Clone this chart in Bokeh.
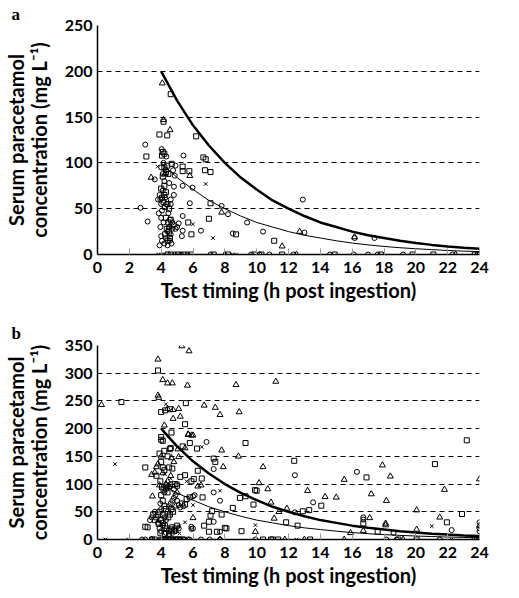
from bokeh.plotting import figure
from bokeh.layouts import column
from bokeh.models import Range1d, LinearAxis, FixedTicker
from bokeh.embed import file_html
from bokeh.resources import INLINE

# Nomogram lines (h, mg/L)
curve_t = [4, 5, 6, 7, 8, 9, 10, 11, 12, 13, 14, 15, 16, 17, 18, 19, 20, 21, 22, 23, 24]
curve_200 = [200, 168, 141, 119, 100, 84, 71, 59, 50, 42, 35, 30, 25, 21, 18, 15, 12.5, 10.5, 8.8, 7.4, 6.3]
curve_100 = [100, 84, 71, 59, 50, 42, 35, 30, 25, 21, 18, 15, 12.5, 10.5, 8.8, 7.4, 6.3, 5.3, 4.4, 3.7, 3.1]

x_ticks = [0, 2, 4, 6, 8, 10, 12, 14, 16, 18, 20, 22, 24]
a_y_ticks = [0, 50, 100, 150, 200, 250]
b_y_ticks = [0, 50, 100, 150, 200, 250, 300, 350]

# ---------------- panel a ----------------
a_circle_x = [4.03, 4.33, 5.4, 4.9, 3.6, 4.85, 4.8, 5.35, 5.97, 4.8, 5.8, 7.8, 8.2, 2.7, 3.15, 5.35, 5.35, 5.3, 6.5, 3.0,
              9.4, 8.5, 10.4, 12.9, 13.0, 16.15, 17.4,
              3.95, 4.0, 4.05, 3.9, 4.1, 4.0, 4.15, 3.95, 4.0, 4.05, 3.9, 4.2, 4.3, 4.4, 4.5, 4.6, 4.65, 4.7, 4.55, 4.45,
              4.35, 4.25, 4.2, 4.1, 4.3, 4.5, 4.6, 4.7, 4.8, 4.9, 5.0, 5.1, 4.4, 4.55, 4.0, 3.85, 3.8, 4.15, 4.6, 4.75]
a_circle_y = [115, 107, 108, 97, 82, 86, 74, 75, 73, 65, 56, 53, 44, 51, 36, 42, 26, 20, 26, 120,
              35, 23, 25, 60, 24, 18, 18,
              60, 55, 48, 65, 70, 40, 35, 30, 20, 15, 10, 12, 18, 25, 30, 22, 12, 28, 38, 45,
              55, 62, 80, 88, 92, 78, 60, 35, 32, 28, 30, 34, 10, 15, 95, 45, 60, 100, 55, 92]
a_circle_zero_x = [4.85, 5.25, 5.65, 7.1, 9.65, 10.17, 10.8, 12.3, 14.6, 16.1, 17.0, 17.6, 19.2, 22.3, 24.0]

a_square_x = [4.6, 4.15, 3.89, 4.38, 6.2, 3.07, 4.05, 4.1, 4.2, 6.65, 6.8, 4.2, 4.38, 4.66, 5.35, 5.35, 5.77, 6.75, 7.1,
              7.1, 5.7, 5.9, 7.0, 8.7, 11.1,
              4.1, 4.2, 4.3, 4.05, 4.15, 4.25, 4.4, 4.5, 4.3, 4.45, 4.6, 4.35, 4.5, 4.25, 4.4, 4.55, 4.3, 4.45, 4.2, 4.0]
a_square_y = [175, 145, 131, 130, 129, 107, 108, 112, 110, 106, 104, 95, 97, 99, 96, 91, 91, 92, 90,
              56, 35, 22, 39, 22, 15,
              85, 75, 68, 62, 57, 52, 55, 50, 40, 35, 38, 28, 25, 22, 15, 18, 90, 88, 65, 72]
a_square_zero_x = [4.4, 4.6, 5.05, 5.45, 5.87, 7.3, 8.2, 9.86, 10.3, 11.6, 14.9, 17.8, 19.8, 21.1, 23.7, 23.9]

a_tri_x = [4.07, 4.56, 4.15, 5.8, 3.37, 7.8, 11.6, 12.7, 16.15, 4.25, 4.5]
a_tri_y = [187, 136, 147, 86, 84, 46, 9, 25, 19, 88, 30]
a_tri_zero_x = [8.0, 12.5, 22.5]

a_cross_x = [3.78, 6.8, 6.0, 7.25, 4.6]
a_cross_y = [96, 77, 33, 18, 32]
a_cross_zero_x = [3.82, 4.0, 4.2, 8.5, 8.7]

# ---------------- panel b ----------------
b_tri_x = [0.25, 3.8, 3.8, 3.85, 4.1, 4.4, 4.7, 5.3, 5.75, 5.65, 4.4, 4.75, 5.1, 5.2, 4.75, 4.2, 5.7, 5.9, 6.0, 5.05,
           5.5, 6.7, 7.4, 7.7, 8.7, 8.9, 8.85, 7.8, 7.9, 6.5, 3.45, 3.4, 3.6, 3.7, 3.8, 6.0, 11.2, 10.4, 10.15, 15.5,
           10.7, 13.2, 14.3, 15.0, 10.9, 11.4, 11.9, 11.1, 15.9, 9.92, 17.9, 18.4, 24.0, 21.8, 17.2, 18.15, 20.05,
           21.5, 17.1, 18.1, 18.1, 20.05, 16.7, 24.0, 4.65, 5.1, 5.7, 6.3, 4.3, 4.5, 4.1, 4.9, 5.0, 3.9, 4.0, 4.4,
           4.8, 4.6]
b_tri_y = [243, 325, 260, 256, 288, 282, 282, 349, 340, 278, 236, 234, 236, 222, 218, 206, 190, 188, 188, 163,
           165, 242, 238, 225, 279, 230, 150, 161, 131, 98, 78, 117, 121, 131, 136, 39, 285, 131, 102, 108,
           91, 88, 77, 76, 67, 50, 56, 38, 12, 14, 134, 114, 109, 90, 82, 70, 53,
           40, 39, 29, 26, 18, 16, 25, 147, 149, 189, 96, 100, 95, 120, 60, 85, 98, 150, 105,
           140, 115]
b_tri_zero_x = [3.4, 7.7, 11.77, 13.0, 15.5, 19.2, 24.0]

b_square_x = [1.5, 3.0, 3.0, 3.8, 5.55, 4.0, 4.25, 4.55, 5.5, 4.65, 4.0, 4.1, 4.6, 6.25, 9.3, 7.3, 7.4, 6.3, 6.05,
              6.6, 5.8, 8.5, 8.95, 9.3, 7.2, 7.1, 7.8, 8.1, 9.05, 6.7, 7.0, 3.15, 12.36, 9.9, 14.06, 9.8, 12.9,
              13.3, 11.85, 12.57, 23.2, 21.2, 16.9, 22.9, 21.95, 16.7, 17.6, 3.7, 5.35, 5.8, 4.55, 5.2, 5.5, 5.9,
              6.55, 5.6, 7.0, 8.0, 7.5, 10.0,
              3.9, 4.0, 4.1, 4.2, 3.95, 4.05, 4.15, 4.3, 4.4, 4.0, 4.1, 4.2, 4.3, 3.9, 3.8, 3.7, 4.0, 4.1, 4.25,
              4.35, 4.5, 4.6, 4.7, 4.8, 4.9, 5.0, 4.45, 4.55, 4.65, 4.75, 4.0, 4.2, 4.4, 4.5, 4.7, 4.85, 5.0,
              5.3, 5.5, 3.5, 3.6, 3.85, 3.95, 4.2]
b_square_y = [248, 130, 23, 305, 246, 230, 233, 235, 208, 193, 180, 178, 165, 164, 174, 146, 140, 124, 109,
              76, 76, 57, 75, 78, 51, 43, 45, 20, 15, 25, 14, 22, 142, 89, 61, 63, 51,
              53, 31, 25, 179, 136, 112, 46, 31, 29, 14, 115, 168, 174, 163, 113, 116, 105,
              110, 73, 32, 21, 14, 88,
              155, 140, 130, 125, 105, 95, 90, 92, 85, 80, 70, 60, 55, 50, 45, 40, 35, 30, 25,
              20, 15, 18, 22, 16, 20, 25, 40, 45, 55, 50, 185, 160, 150, 130, 128, 100, 97,
              65, 63, 45, 35, 28, 12, 10]
b_square_zero_x = [3.42, 3.6, 4.0, 4.15, 4.3, 4.45, 4.6, 4.75, 4.9, 5.05, 5.2, 5.35, 10.4, 10.9, 11.0, 11.35, 13.35,
                   18.9, 20.05, 23.7, 23.85, 24.0]

b_circle_x = [6.85, 7.3, 6.1, 7.7, 7.3, 7.7, 5.9, 5.9, 3.3, 7.3, 12.4, 13.55, 12.4, 16.3, 16.7, 16.7, 22.25, 18.6,
              24.0, 24.0, 24.0, 6.0, 6.0,
              3.4, 3.6, 3.8, 3.9, 4.0, 4.1, 4.2, 4.3, 4.4, 4.5, 4.6, 4.7, 4.8, 4.9, 5.0, 5.1, 5.2, 5.4, 4.3, 4.5,
              4.7, 4.9, 5.1, 4.2, 4.4, 4.6, 4.8, 5.0, 4.1, 4.0, 3.95]
b_circle_y = [176, 127, 80, 70, 32, 14, 23, 19, 35, 85, 116, 67, 49, 122, 40, 36, 17, 12,
              31, 20, 15, 78, 20,
              40, 50, 30, 20, 15, 25, 40, 35, 50, 60, 65, 70, 75, 80, 70, 62, 58, 60, 12, 10,
              12, 15, 20, 85, 95, 100, 90, 100, 45, 55, 65]
b_circle_zero_x = [2.8, 3.0, 4.05, 4.25, 4.5, 4.7, 4.95, 5.15, 5.45, 5.67, 5.78, 6.5, 7.05, 7.7, 9.92, 18.15,
                   18.8, 21.5]

b_cross_x = [1.1, 4.3, 6.55, 7.7, 6.0, 5.5, 5.15, 5.15, 9.92, 21.0, 4.24, 4.6, 5.6]
b_cross_y = [136, 244, 167, 88, 62, 31, 24, 11, 26, 24, 118, 110, 105]
b_cross_zero_x = [0.5, 1.93, 12.5, 22.25]

FONT = "Lato"
LABEL_SIZE = "20px"


def style_text(ax):
    ax.major_label_text_font = FONT
    ax.major_label_text_font_style = "bold"
    ax.major_label_text_font_size = "16px"
    ax.major_label_text_color = "black"
    ax.axis_label_text_font = FONT
    ax.axis_label_text_font_style = "bold"
    ax.axis_label_text_font_size = LABEL_SIZE
    ax.axis_label_text_color = "black"


def panel(letter, ymax, yticks, height, btop, bbot, series, title_standoff):
    p = figure(width=503, height=height, output_backend="svg", toolbar_location=None,
               x_range=Range1d(0, 24), y_range=Range1d(0, ymax),
               min_border_left=88, min_border_right=24, min_border_top=btop, min_border_bottom=bbot)
    p.outline_line_color = None
    p.title.text = letter
    p.title.align = "left"
    p.title.offset = -86
    p.title.standoff = title_standoff
    p.title.text_font = "Liberation Serif"
    p.title.text_font_style = "bold"
    p.title.text_font_size = "17px"
    p.title.text_color = "black"

    p.xgrid.grid_line_color = None
    p.ygrid.grid_line_color = "black"
    p.ygrid.grid_line_dash = "5 4"
    p.ygrid.grid_line_width = 1
    p.xaxis.ticker = x_ticks
    p.yaxis.ticker = yticks
    for ax in (p.xaxis[0], p.yaxis[0]):
        ax.axis_line_color = "black"
        ax.axis_line_width = 1.5
        ax.minor_tick_line_color = None
        style_text(ax)
    p.xaxis.major_tick_in = 6
    p.xaxis.major_tick_out = 0
    p.xaxis.major_tick_line_color = "#999999"
    p.xaxis.major_label_standoff = 7
    p.xaxis.axis_label_standoff = 2
    p.yaxis.major_tick_in = 0
    p.yaxis.major_tick_out = 0
    p.yaxis.major_label_standoff = 5
    p.yaxis.axis_label_standoff = 11
    p.xaxis.axis_label = "Test timing (h post ingestion)"
    p.yaxis.axis_label = "concentration (mg L\u207b\u00b9)"

    outer = LinearAxis(ticker=FixedTicker(ticks=[]), axis_label="Serum paracetamol")
    outer.axis_line_color = None
    outer.major_tick_line_color = None
    outer.minor_tick_line_color = None
    outer.major_tick_in = 0
    outer.major_tick_out = 0
    outer.major_label_standoff = 0
    outer.axis_label_standoff = -4
    style_text(outer)
    outer.major_label_text_font_size = "0px"
    p.add_layout(outer, "left")

    p.line(curve_t, curve_200, line_color="black", line_width=2.5)
    p.line(curve_t, curve_100, line_color="black", line_width=1)

    for marker, xs, ys, zx, size in series:
        allx = list(xs) + list(zx)
        ally = list(ys) + [0] * len(zx)
        p.scatter(allx, ally, marker=marker, size=size, line_color="black", line_width=1, fill_color=None)
    return p


pa = panel("a", 250, a_y_ticks, 304, 23, 49, [
    ("circle", a_circle_x, a_circle_y, a_circle_zero_x, 5),
    ("square", a_square_x, a_square_y, a_square_zero_x, 5),
    ("triangle", a_tri_x, a_tri_y, a_tri_zero_x, 6),
    ("x", a_cross_x, a_cross_y, a_cross_zero_x, 5),
], 4)

pb = panel("b", 350, b_y_ticks, 285, 41, 49, [
    ("circle", b_circle_x, b_circle_y, b_circle_zero_x, 5),
    ("square", b_square_x, b_square_y, b_square_zero_x, 5),
    ("triangle", b_tri_x, b_tri_y, b_tri_zero_x, 6),
    ("x", b_cross_x, b_cross_y, b_cross_zero_x, 5),
], 5)

layout = column(pa, pb, spacing=0)
open("out.html", "w").write(file_html(layout, INLINE))
